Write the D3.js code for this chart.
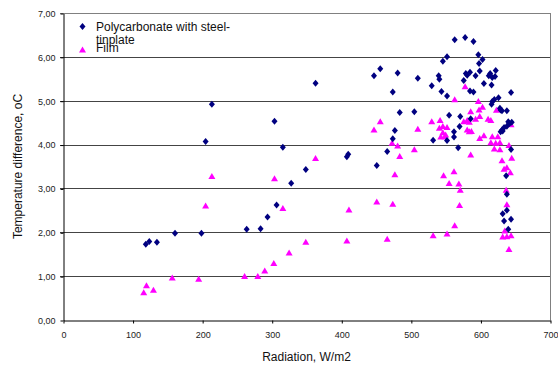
<!DOCTYPE html>
<html><head><meta charset="utf-8">
<script src="https://cdn.jsdelivr.net/npm/d3@7/dist/d3.min.js"></script>
<style>body{margin:0;background:#fff;} svg{display:block;font-family:"Liberation Sans",Arial,sans-serif;}</style>
</head><body>
<script>
const seriesNames = ["Polycarbonate with steel-tinplate", "Film"];
const xTicks = [0,100,200,300,400,500,600,700];
const yTicks = [0,1,2,3,4,5,6,7];
const polycarbonate = [
[119,1.73],[124,1.79],[135,1.77],[161,1.98],[199,1.98],[205,4.07],[214,4.92],[264,2.07],[284,2.08],[294,2.35],
[304,4.53],[307,2.62],[316,3.94],[328,3.12],[349,3.43],[363,5.40],[408,3.72],[410,3.78],[447,5.57],[451,3.52],
[456,5.73],[466,3.84],[474,4.13],[474,5.20],[477,4.32],[481,5.63],[484,4.73],[505,4.75],[510,5.51],[530,5.34],
[532,4.10],[540,5.57],[541,5.49],[544,5.21],[546,5.90],[552,6.00],[552,5.11],[552,4.09],[555,4.67],[562,4.29],
[562,4.17],[563,6.39],[568,3.93],[570,4.41],[571,4.64],[576,5.46],[578,6.44],[579,5.62],[581,5.58],[585,5.65],
[585,5.22],[586,4.59],[590,6.35],[590,5.20],[593,5.57],[597,6.05],[598,5.85],[599,5.68],[603,5.94],[605,5.39],
[612,5.57],[614,5.62],[616,5.36],[616,4.92],[617,5.53],[617,4.98],[620,5.03],[622,5.69],[621,5.55],[626,5.07],
[628,4.83],[629,4.79],[631,4.77],[638,4.77],[629,4.29],[631,4.33],[634,4.39],[638,4.42],[640,4.52],[642,4.48],
[645,4.51],[644,5.19],[632,4.31],[644,3.89],[637,3.29],[638,2.87],[638,2.50],[632,2.42],[644,2.30],[634,2.26],
[640,2.07]
];
const film = [
[116,0.62],[120,0.78],[130,0.68],[157,0.96],[195,0.93],[205,2.60],[214,3.27],[261,0.99],[280,0.99],[290,1.12],
[303,1.29],[304,3.22],[316,2.54],[325,1.53],[349,1.77],[363,3.68],[408,1.80],[411,2.51],[447,4.33],[451,2.69],
[456,4.52],[466,1.84],[473,4.03],[474,2.64],[477,3.31],[481,3.97],[484,3.73],[505,3.88],[510,4.35],[530,4.52],
[532,1.92],[541,4.37],[542,4.55],[543,4.17],[546,4.41],[546,4.27],[547,3.29],[549,4.18],[550,4.22],[552,4.39],
[552,1.96],[555,3.11],[562,3.38],[563,5.02],[563,2.15],[569,3.10],[570,2.61],[571,2.96],[576,4.52],[578,5.32],
[581,4.55],[581,4.33],[584,4.51],[584,4.29],[586,4.75],[586,3.76],[587,4.30],[593,4.58],[597,4.98],[598,4.79],
[599,4.64],[599,4.14],[603,4.85],[605,4.20],[611,4.58],[615,4.55],[615,4.04],[617,4.18],[620,3.90],[623,4.78],
[625,4.18],[622,4.03],[628,4.04],[628,3.88],[631,3.63],[634,3.44],[638,3.47],[641,3.98],[643,3.36],[644,4.45],
[645,3.69],[637,2.96],[638,2.63],[635,2.03],[632,1.89],[638,1.90],[644,1.92],[641,1.61]
];

const W = 558, H = 365;
const m = {left:63, right:8, top:13, bottom:45};
const svg = d3.select("body").append("svg").attr("width",W).attr("height",H);
const x = d3.scaleLinear().domain([0,700]).range([m.left, W-m.right]);
const y = d3.scaleLinear().domain([0,7]).range([H-m.bottom, m.top]);
const fmt = v => d3.format(".2f")(v).replace(".", ",");

// gridlines
svg.append("g").selectAll("line").data(yTicks.filter(d=>d>0 && d<7)).join("line")
  .attr("x1", x(0)-3).attr("x2", x(700))
  .attr("y1", d=>Math.round(y(d))+0.5).attr("y2", d=>Math.round(y(d))+0.5)
  .attr("stroke","#444").attr("stroke-width",1);
// frame top and right
svg.append("line").attr("x1",x(0)-3).attr("x2",x(700)).attr("y1",Math.round(y(7))+0.5).attr("y2",Math.round(y(7))+0.5).attr("stroke","#808080");
svg.append("line").attr("x1",Math.round(x(700))+0.5).attr("x2",Math.round(x(700))+0.5).attr("y1",y(7)).attr("y2",y(0)).attr("stroke","#808080");

// axes
const yAxis = d3.axisLeft(y).tickValues(yTicks).tickFormat(fmt).tickSize(3).tickSizeOuter(0).tickPadding(5);
const gy = svg.append("g").attr("transform",`translate(${Math.round(x(0))+0.5},0.5)`).call(yAxis);
gy.selectAll("text").attr("font-size",9).attr("fill","#222").attr("font-family","Liberation Sans, Arial");
gy.selectAll("line,path").attr("stroke","#000");
const xAxis = d3.axisBottom(x).tickValues(xTicks).tickSize(3).tickSizeOuter(0).tickPadding(8);
const gx = svg.append("g").attr("transform",`translate(0.5,${Math.round(y(0))+0.5})`).call(xAxis);
gx.selectAll("text").attr("font-size",9).attr("fill","#222").attr("font-family","Liberation Sans, Arial");
gx.selectAll("line,path").attr("stroke","#000");

// points
const diamond = "M0,-3.5L3,0L0,3.5L-3,0Z";
const tri = "M0,-3.5L3.5,2.5L-3.5,2.5Z";
svg.append("g").selectAll("path").data(film).join("path")
  .attr("d",tri).attr("transform",d=>`translate(${x(d[0])},${y(d[1])})`).attr("fill","#FF00FF");
svg.append("g").selectAll("path").data(polycarbonate).join("path")
  .attr("d",diamond).attr("transform",d=>`translate(${x(d[0])},${y(d[1])})`).attr("fill","#000080");

// axis titles
svg.append("text").attr("x",(x(0)+x(700))/2).attr("y",361).attr("text-anchor","middle")
  .attr("font-size",12).attr("fill","#111").text("Radiation, W/m2");
svg.append("text").attr("transform",`translate(22,${(y(0)+y(7))/2}) rotate(-90)`).attr("text-anchor","middle")
  .attr("font-size",12).attr("fill","#111").text("Temperature difference, oC");

// legend
const lg = svg.append("g");
lg.append("path").attr("d",diamond).attr("transform","translate(82.5,26.5)").attr("fill","#000080");
lg.append("text").attr("x",96).attr("y",31).attr("font-size",12).attr("fill","#111").text("Polycarbonate with steel-");
lg.append("text").attr("x",96).attr("y",44).attr("font-size",12).attr("fill","#111").text("tinplate");
lg.append("path").attr("d",tri).attr("transform","translate(82.5,50)").attr("fill","#FF00FF");
lg.append("text").attr("x",96).attr("y",52).attr("font-size",12).attr("fill","#111").text(seriesNames[1]);
</script>
</body></html>
